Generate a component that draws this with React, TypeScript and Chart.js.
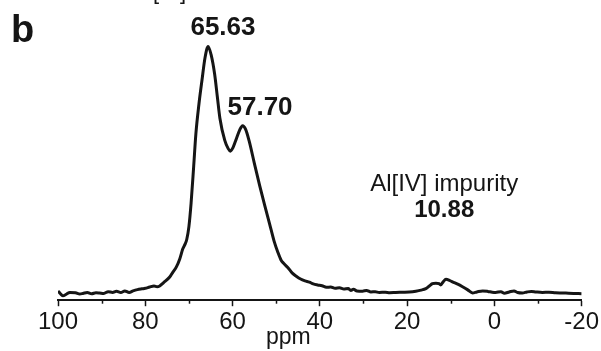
import React, { useEffect, useRef } from "react";
import { Chart, registerables } from "chart.js";

Chart.register(...registerables);

// Chemical shift (ppm) and relative intensity
const ppm: number[] = [
  100, 99.5, 98.9, 98.0, 97.3, 96.0, 95.0, 94.3, 93.3, 92.3, 91.3, 90.5, 89.5, 88.5, 87.5, 86.6, 85.6, 84.7,
  83.7, 82.8, 81.8, 80.8, 80.0, 79.0, 78.0, 77.3, 76.7, 75.8, 74.4, 73.7, 72.9, 72.1, 71.4, 70.8, 70.5, 70.0,
  69.5, 68.9, 68.4, 67.7, 67.0, 66.3, 65.6, 64.9, 64.1, 63.5, 62.9, 61.8, 61.0, 60.5, 59.9, 59.2, 58.4, 57.7,
  57.0, 56.2, 55.0, 53.8, 52.6, 51.5, 50.5, 49.6, 48.9, 48.3, 47.3, 46.3, 45.4, 44.4, 43.4, 42.4, 41.5, 40.5,
  39.5, 38.5, 37.5, 36.5, 35.5, 34.5, 33.5, 32.9, 32.3, 31.5, 30.2, 29.3, 28.3, 27.3, 26.4, 25.0, 24.0, 22.6,
  21.0, 19.5, 18.0, 16.8, 15.7, 14.9, 14.2, 13.4, 12.7, 12.3, 11.7, 11.1, 10.3, 9.6, 8.4, 7.3, 6.1, 5.0, 4.0,
  2.7, 1.5, 0.5, -0.3, -1.5, -2.3, -3.4, -4.5, -5.3, -6.4, -7.5, -8.5, -9.5, -11, -12.5, -14, -15.6, -17, -18.5,
  -20,
];
const intensity: number[] = [
  3.6, 2.6, 1.7, 2.4, 3.0, 2.9, 2.4, 2.6, 3.0, 2.5, 2.9, 2.8, 2.6, 3.3, 3.0, 3.5, 3.0, 3.6,
  3.0, 3.6, 4.1, 4.4, 4.6, 5.1, 5.5, 5.2, 5.5, 6.8, 9.0, 10.8, 12.8, 16.0, 19.9, 22.0, 23.5, 28.5,
  37.6, 52.0, 64.5, 76.0, 85.3, 94.0, 98.3, 95.0, 87.5, 79.0, 70.5, 62.0, 58.7, 57.7, 59.1, 62.2, 65.8, 67.6,
  66.2, 61.7, 53.0, 44.5, 36.5, 29.5, 23.0, 18.5, 15.6, 14.3, 12.6, 10.5, 9.3, 8.2, 7.5, 7.0, 6.3, 5.9,
  5.6, 5.0, 5.1, 4.6, 4.8, 4.3, 4.5, 3.8, 4.2, 3.6, 3.5, 3.8, 3.2, 3.3, 3.0, 3.1, 2.9, 3.0,
  3.1, 3.2, 3.5, 3.9, 4.5, 5.5, 6.4, 6.6, 6.4, 5.9, 7.2, 8.1, 7.7, 7.1, 6.2, 5.2, 4.0, 2.8, 3.2,
  3.6, 3.4, 3.1, 3.0, 3.3, 2.7, 3.2, 3.6, 3.0, 2.8, 3.2, 3.4, 3.2, 3.0, 3.1, 2.9, 2.8, 2.7, 2.6,
  2.5,
];
const minorTicks: number[] = [90, 70, 50, 30, 10, -10];

const FONT = "'Liberation Sans', Arial, Helvetica, sans-serif";
const INK = "#151515";

const annotations = {
  id: "annotations",
  afterDraw(chart: any) {
    const { ctx, chartArea } = chart;
    const xs = chart.scales.x;
    ctx.save();
    // minor ticks
    ctx.strokeStyle = INK;
    ctx.lineWidth = 1.5;
    minorTicks.forEach((v) => {
      const px = Math.round(xs.getPixelForValue(v)) + 0.5;
      ctx.beginPath();
      ctx.moveTo(px, chartArea.bottom);
      ctx.lineTo(px, chartArea.bottom + 3.5);
      ctx.stroke();
    });
    ctx.fillStyle = INK;
    ctx.textBaseline = "alphabetic";
    // panel letter
    ctx.textAlign = "left";
    ctx.font = `bold 38px ${FONT}`;
    ctx.fillText("b", 11, 42);
    // cut-off text from the panel above
    ctx.font = `22px ${FONT}`;
    ctx.fillText("[IV]", 153, -1.5);
    ctx.textAlign = "center";
    ctx.font = `bold 26px ${FONT}`;
    ctx.fillText("65.63", xs.getPixelForValue(62.2), 35);
    ctx.fillText("57.70", xs.getPixelForValue(53.7), 115);
    ctx.font = `24px ${FONT}`;
    ctx.fillText("Al[IV] impurity", xs.getPixelForValue(11.5), 191);
    ctx.font = `bold 24px ${FONT}`;
    ctx.fillText("10.88", xs.getPixelForValue(11.5), 216.5);
    ctx.font = `23px ${FONT}`;
    ctx.fillText("ppm", xs.getPixelForValue(47.2), 344);
    ctx.restore();
  },
};

export default function App() {
  const ref = useRef<HTMLCanvasElement | null>(null);
  useEffect(() => {
    if (!ref.current) return;
    const chart = new Chart(ref.current, {
      type: "line",
      data: {
        datasets: [
          {
            data: ppm.map((x, i) => ({ x, y: intensity[i] })),
            borderColor: INK,
            borderWidth: 3,
            pointRadius: 0,
            fill: false,
            cubicInterpolationMode: "monotone",
          },
        ],
      },
      options: {
        animation: false,
        responsive: false,
        events: [],
        layout: { padding: { left: 58, right: 18, top: 42, bottom: 12 } },
        plugins: { legend: { display: false }, tooltip: { enabled: false } },
        scales: {
          x: {
            type: "linear",
            reverse: true,
            min: -20,
            max: 100,
            position: "bottom",
            border: { display: true, color: INK, width: 2 },
            grid: { display: true, drawOnChartArea: false, drawTicks: true, tickLength: 6, tickColor: INK, tickWidth: 1.5 },
            ticks: { stepSize: 20, autoSkip: false, maxRotation: 0, padding: 2, color: INK, font: { size: 24, family: FONT } },
          },
          y: { display: false, min: 0, max: 100 },
        },
      },
      plugins: [annotations],
    });
    return () => chart.destroy();
  }, []);
  return (
    <div style={{ position: "fixed", left: 0, top: 0, width: 601, height: 351, background: "#fff" }}>
      <canvas ref={ref} width={601} height={351} />
    </div>
  );
}
